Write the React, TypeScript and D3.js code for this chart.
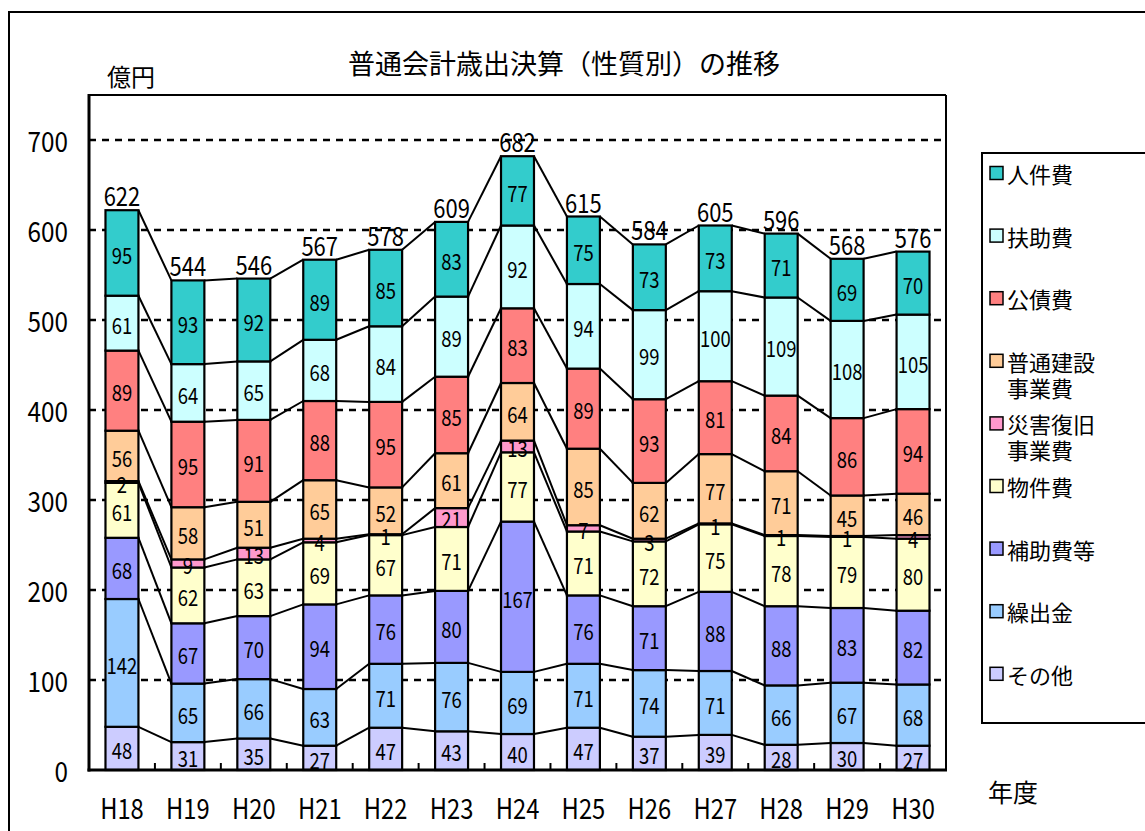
import React from "react";
import * as d3 from "d3";

const categories = ["H18", "H19", "H20", "H21", "H22", "H23", "H24", "H25", "H26", "H27", "H28", "H29", "H30"];

// series from bottom to top
const seriesNames = ["その他", "繰出金", "補助費等", "物件費", "災害復旧事業費", "普通建設事業費", "公債費", "扶助費", "人件費"];
const sonota = [48, 31, 35, 27, 47, 43, 40, 47, 37, 39, 28, 30, 27];
const kuridashi = [142, 65, 66, 63, 71, 76, 69, 71, 74, 71, 66, 67, 68];
const hojo = [68, 67, 70, 94, 76, 80, 167, 76, 71, 88, 88, 83, 82];
const bukken = [61, 62, 63, 69, 67, 71, 77, 71, 72, 75, 78, 79, 80];
const saigai = [2, 9, 13, 4, 1, 21, 13, 7, 3, 1, 1, 1, 4];
const futsuKensetsu = [56, 58, 51, 65, 52, 61, 64, 85, 62, 77, 71, 45, 46];
const kousai = [89, 95, 91, 88, 95, 85, 83, 89, 93, 81, 84, 86, 94];
const fujo = [61, 64, 65, 68, 84, 89, 92, 94, 99, 100, 109, 108, 105];
const jinken = [95, 93, 92, 89, 85, 83, 77, 75, 73, 73, 71, 69, 70];
const totals = [622, 544, 546, 567, 578, 609, 682, 615, 584, 605, 596, 568, 576];

const seriesValues = [sonota, kuridashi, hojo, bukken, saigai, futsuKensetsu, kousai, fujo, jinken];
const seriesColors = ["#CCCCFF", "#99CCFF", "#9999FF", "#FFFFCC", "#FF99CC", "#FFCC99", "#FF8080", "#CCFFFF", "#33CCCC"];

// legend order (top to bottom) with line breaks
const legendItems = [
  { lines: ["人件費"], s: 8 },
  { lines: ["扶助費"], s: 7 },
  { lines: ["公債費"], s: 6 },
  { lines: ["普通建設", "事業費"], s: 5 },
  { lines: ["災害復旧", "事業費"], s: 4 },
  { lines: ["物件費"], s: 3 },
  { lines: ["補助費等"], s: 2 },
  { lines: ["繰出金"], s: 1 },
  { lines: ["その他"], s: 0 },
];

const yTicks = [0, 100, 200, 300, 400, 500, 600, 700];
const gridValues = [100, 200, 300, 400, 500, 600, 700];

const FONT = "'Noto Sans CJK JP', 'Noto Sans', sans-serif";

function Num({ x, y, size, children, anchor = "middle", sx = 0.9, sy = 1, baseline = "central" }: any) {
  return (
    <text
      transform={`translate(${x},${y}) scale(${sx},${sy})`}
      textAnchor={anchor}
      dominantBaseline={baseline}
      fontSize={size}
      fontFamily={FONT}
      fill="#000"
    >
      {children}
    </text>
  );
}

export default function App() {
  const W = 1145;
  const H = 831;
  const left = 89;
  const right = 946;
  const top = 95;
  const bottom = 770;

  const x = d3.scaleBand<string>().domain(categories).range([left, right]).paddingInner(0.5).paddingOuter(0.25);
  const y = d3.scaleLinear().domain([0, 750]).range([bottom, top]);
  const bw = x.bandwidth();
  const step = x.step();

  const stackData = categories.map((c, i) => {
    const row: any = { cat: c };
    seriesNames.forEach((n, s) => (row[n] = seriesValues[s][i]));
    return row;
  });
  const stacked = d3.stack<any>().keys(seriesNames)(stackData);

  return (
    <svg width={W} height={H} style={{ position: "absolute", left: 0, top: 0, background: "#fff" }}>
      <rect x={0} y={0} width={W} height={H} fill="#fff" />
      {/* outer frame */}
      <rect x={9} y={12} width={W + 20} height={H + 20} fill="none" stroke="#000" strokeWidth={2} />

      {/* title */}
      <text x={564} y={62} textAnchor="middle" dominantBaseline="central" fontSize={27} fontFamily={FONT}>
        普通会計歳出決算（性質別）の推移
      </text>
      <text x={107} y={75} dominantBaseline="central" fontSize={24} fontFamily={FONT}>
        億円
      </text>
      <text x={988} y={791} dominantBaseline="central" fontSize={25} fontFamily={FONT}>
        年度
      </text>

      {/* gridlines */}
      {gridValues.map((v) => (
        <line key={v} x1={left} x2={right} y1={y(v)} y2={y(v)} stroke="#000" strokeWidth={2.5} strokeDasharray="7,6" />
      ))}

      {/* plot border */}
      <line x1={left} x2={right} y1={top} y2={top} stroke="#000" strokeWidth={2} />
      <line x1={right} x2={right} y1={top} y2={bottom} stroke="#000" strokeWidth={2} />

      {/* series lines */}
      {stacked.map((layer, s) =>
        categories.slice(0, -1).map((c, i) => (
          <line
            key={`sl-${s}-${i}`}
            x1={(x(c) as number) + bw}
            y1={y(layer[i][1])}
            x2={x(categories[i + 1]) as number}
            y2={y(layer[i + 1][1])}
            stroke="#000"
            strokeWidth={2}
          />
        ))
      )}

      {/* bars */}
      {stacked.map((layer, s) =>
        layer.map((d, i) => (
          <rect
            key={`b-${s}-${i}`}
            x={x(categories[i]) as number}
            y={y(d[1])}
            width={bw}
            height={y(d[0]) - y(d[1])}
            fill={seriesColors[s]}
            stroke="#000"
            strokeWidth={2.2}
          />
        ))
      )}

      {/* segment labels */}
      {stacked.map((layer, s) =>
        layer.map((d, i) => (
          <Num key={`l-${s}-${i}`} x={(x(categories[i]) as number) + bw / 2} y={(y(d[0]) + y(d[1])) / 2 + 1} size={21} sx={0.88} sy={1.06}>
            {seriesValues[s][i]}
          </Num>
        ))
      )}

      {/* totals */}
      {categories.map((c, i) => (
        <Num key={`t-${c}`} x={(x(c) as number) + bw / 2} y={y(totals[i]) - 4} size={25} sx={0.88} sy={1.05} baseline="alphabetic">
          {totals[i]}
        </Num>
      ))}

      {/* axes */}
      <line x1={left} x2={left} y1={top - 1} y2={bottom + 1.5} stroke="#000" strokeWidth={3} />
      <line x1={left - 1.5} x2={right + 1} y1={bottom} y2={bottom} stroke="#000" strokeWidth={3} />
      {yTicks.map((v) => (
        <g key={`yt-${v}`}>
          <line x1={left} x2={left + 6} y1={y(v)} y2={y(v)} stroke="#000" strokeWidth={2} />
          <Num x={68} y={y(v)} size={27} sx={0.9} sy={1.04} anchor="end">
            {v}
          </Num>
        </g>
      ))}
      {categories.slice(1).map((c, i) => (
        <line key={`xt-${c}`} x1={left + step * (i + 1)} x2={left + step * (i + 1)} y1={bottom} y2={bottom - 7} stroke="#000" strokeWidth={2} />
      ))}
      {categories.map((c) => (
        <Num key={`xl-${c}`} x={(x(c) as number) + bw / 2} y={807} size={27} sx={0.88} sy={1.04}>
          {c}
        </Num>
      ))}

      {/* legend */}
      <rect x={982} y={153} width={200} height={570} fill="#fff" stroke="#000" strokeWidth={2} />
      {legendItems.map((it, k) => {
        const cy = 173 + 62.6 * k;
        return (
          <g key={`lg-${k}`}>
            <rect x={990} y={cy - 6.5} width={13} height={13} fill={seriesColors[it.s]} stroke="#000" strokeWidth={1.5} />
            {it.lines.map((ln, j) => (
              <text key={j} x={1007} y={cy + j * 26} dominantBaseline="central" fontSize={22} fontFamily={FONT}>
                {ln}
              </text>
            ))}
          </g>
        );
      })}
    </svg>
  );
}
